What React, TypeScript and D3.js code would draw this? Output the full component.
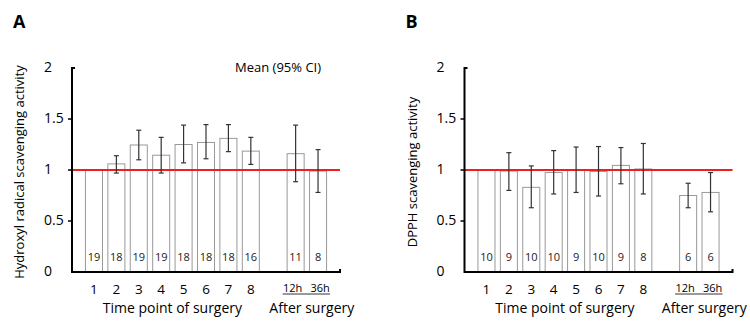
import React, { useEffect, useRef } from 'react';
import * as d3 from 'd3';

// time points during surgery, then hours after surgery
const timePoints = ['1', '2', '3', '4', '5', '6', '7', '8', '12h', '36h'];
const slots = ['1', '2', '3', '4', '5', '6', '7', '8', 'spacer', '12h', '36h'];
const yTicks = [0, 0.5, 1, 1.5, 2];

// hydroxyl radical scavenging activity, mean and 95% CI (first point is the reference)
const hydroxylMean = [1.0, 1.06, 1.245, 1.145, 1.25, 1.27, 1.31, 1.185, 1.16, 0.99];
const hydroxylLow = [null, 0.97, 1.1, 0.97, 1.07, 1.11, 1.18, 1.055, 0.885, 0.78];
const hydroxylHigh = [null, 1.14, 1.39, 1.32, 1.44, 1.445, 1.445, 1.32, 1.44, 1.2];
const hydroxylN = [19, 18, 19, 19, 18, 18, 18, 16, 11, 8];

// DPPH scavenging activity
const dpphMean = [1.0, 0.99, 0.83, 0.975, 1.0, 0.985, 1.045, 1.01, 0.75, 0.78];
const dpphLow = [null, 0.8, 0.63, 0.765, 0.78, 0.745, 0.865, 0.765, 0.63, 0.59];
const dpphHigh = [null, 1.17, 1.04, 1.19, 1.225, 1.23, 1.22, 1.26, 0.87, 0.975];
const dpphN = [10, 9, 10, 10, 9, 10, 9, 8, 6, 6];

const FONT = "'Open Sans', sans-serif";

type Panel = {
  letter: string;
  yLabel: string;
  mean: number[];
  low: (number | null)[];
  high: (number | null)[];
  n: number[];
  left: number;
  showLegend: boolean;
};

function drawPanel(svg: d3.Selection<SVGSVGElement, unknown, null, undefined>, p: Panel) {
  const top = 68;
  const bottom = 272;
  const axisLen = 268;
  const x0 = p.left;
  const x1 = p.left + axisLen;

  const g = svg.append('g');

  const x = d3.scaleBand<string>()
    .domain(slots)
    .range([x0, x1])
    .paddingInner(0.24)
    .paddingOuter(0.6);

  const y = d3.scaleLinear().domain([0, 2]).range([bottom, top]);

  const rows = timePoints.map((t, i) => ({
    t, mean: p.mean[i], low: p.low[i], high: p.high[i], n: p.n[i],
  }));

  // panel letter
  g.append('text')
    .attr('x', x0 - 59)
    .attr('y', 28)
    .style('font-family', FONT)
    .style('font-weight', 'bold')
    .style('font-size', '18px')
    .text(p.letter);

  // bars
  g.selectAll('rect.bar')
    .data(rows)
    .enter()
    .append('rect')
    .attr('class', 'bar')
    .attr('x', d => x(d.t)!)
    .attr('y', d => y(d.mean))
    .attr('width', x.bandwidth())
    .attr('height', d => y(0) - y(d.mean))
    .attr('fill', '#fff')
    .attr('stroke', '#999')
    .attr('stroke-width', 1);

  // sample sizes
  g.selectAll('text.n')
    .data(rows)
    .enter()
    .append('text')
    .attr('class', 'n')
    .attr('x', d => x(d.t)! + x.bandwidth() / 2)
    .attr('y', bottom - 14)
    .attr('text-anchor', 'middle')
    .attr('dominant-baseline', 'middle')
    .style('font-family', FONT)
    .style('font-size', '11px')
    .style('fill', '#222')
    .text(d => d.n);

  // reference line at 1
  g.append('line')
    .attr('x1', x0)
    .attr('x2', x1)
    .attr('y1', y(1))
    .attr('y2', y(1))
    .attr('stroke', '#f01e1e')
    .attr('stroke-width', 2);

  // 95% CI whiskers
  const ci = rows.filter(d => d.low != null && d.high != null);
  const cap = 2.5;
  const eg = g.append('g').attr('stroke', '#333').attr('stroke-width', 1.2);
  ci.forEach(d => {
    const cx = x(d.t)! + x.bandwidth() / 2;
    eg.append('line').attr('x1', cx).attr('x2', cx).attr('y1', y(d.low!)).attr('y2', y(d.high!));
    eg.append('line').attr('x1', cx - cap).attr('x2', cx + cap).attr('y1', y(d.low!)).attr('y2', y(d.low!));
    eg.append('line').attr('x1', cx - cap).attr('x2', cx + cap).attr('y1', y(d.high!)).attr('y2', y(d.high!));
  });

  // axes
  g.append('path')
    .attr('d', `M${x0 + 3},${top}H${x0}V${bottom}H${x1}V${bottom - 3}`)
    .attr('fill', 'none')
    .attr('stroke', '#000')
    .attr('stroke-width', 2);

  g.selectAll('line.ytick')
    .data(yTicks.filter(v => v > 0 && v < 2))
    .enter()
    .append('line')
    .attr('class', 'ytick')
    .attr('x1', x0 - 4)
    .attr('x2', x0)
    .attr('y1', d => y(d))
    .attr('y2', d => y(d))
    .attr('stroke', '#000')
    .attr('stroke-width', 1.5);

  g.selectAll('text.ytick')
    .data(yTicks)
    .enter()
    .append('text')
    .attr('class', 'ytick')
    .attr('x', x0 - 28)
    .attr('y', d => y(d))
    .attr('dominant-baseline', 'middle')
    .style('font-family', FONT)
    .style('font-size', '14px')
    .text(d => String(d));

  g.append('text')
    .attr('transform', `translate(${x0 - 51},${(top + bottom) / 2 + 2}) rotate(-90)`)
    .attr('text-anchor', 'middle')
    .attr('dominant-baseline', 'middle')
    .style('font-family', FONT)
    .style('font-size', '13px')
    .text(p.yLabel);

  // x labels
  const during = timePoints.slice(0, 8);
  g.selectAll('text.xtick')
    .data(during)
    .enter()
    .append('text')
    .attr('class', 'xtick')
    .attr('x', d => x(d)! + x.bandwidth() / 2)
    .attr('y', 293.5)
    .attr('text-anchor', 'middle')
    .style('font-family', FONT)
    .style('font-size', '13.5px')
    .text(d => d);

  const after = timePoints.slice(8);
  const afterShift = [-3, 2];
  g.selectAll('text.xafter')
    .data(after)
    .enter()
    .append('text')
    .attr('class', 'xafter')
    .attr('x', (d, i) => x(d)! + x.bandwidth() / 2 + afterShift[i])
    .attr('y', 291.5)
    .attr('text-anchor', 'middle')
    .style('font-family', FONT)
    .style('font-size', '11px')
    .text(d => d);

  const ulStart = x(after[0])! + x.bandwidth() / 2 - 13;
  const ulEnd = x(after[1])! + x.bandwidth() / 2 + 12;
  g.append('line')
    .attr('x1', ulStart)
    .attr('x2', ulEnd)
    .attr('y1', 294)
    .attr('y2', 294)
    .attr('stroke', '#000')
    .attr('stroke-width', 0.8);

  const midDuring = (x(during[0])! + x(during[7])! + x.bandwidth()) / 2;
  g.append('text')
    .attr('x', midDuring)
    .attr('y', 312.5)
    .attr('text-anchor', 'middle')
    .style('font-family', FONT)
    .style('font-size', '14px')
    .text('Time point of surgery');

  const midAfter = (x(after[0])! + x(after[1])! + x.bandwidth()) / 2 + 5;
  g.append('text')
    .attr('x', midAfter)
    .attr('y', 312.5)
    .attr('text-anchor', 'middle')
    .style('font-family', FONT)
    .style('font-size', '14px')
    .text('After surgery');

  if (p.showLegend) {
    g.append('text')
      .attr('x', x0 + 163)
      .attr('y', 72)
      .style('font-family', FONT)
      .style('font-size', '13px')
      .text('Mean (95% CI)');
  }
}

const App = () => {
  const svgRef = useRef<SVGSVGElement>(null);

  useEffect(() => {
    document.body.style.margin = '0';
    const svg = d3.select(svgRef.current!);
    svg.selectAll('*').remove();

    drawPanel(svg, {
      letter: 'A',
      yLabel: 'Hydroxyl radical scavenging activity',
      mean: hydroxylMean,
      low: hydroxylLow,
      high: hydroxylHigh,
      n: hydroxylN,
      left: 72,
      showLegend: true,
    });

    drawPanel(svg, {
      letter: 'B',
      yLabel: 'DPPH scavenging activity',
      mean: dpphMean,
      low: dpphLow,
      high: dpphHigh,
      n: dpphN,
      left: 464.5,
      showLegend: false,
    });
  }, []);

  return (
    <svg ref={svgRef} width={750} height={325} style={{ display: 'block', background: '#fff' }} />
  );
};

export default App;
